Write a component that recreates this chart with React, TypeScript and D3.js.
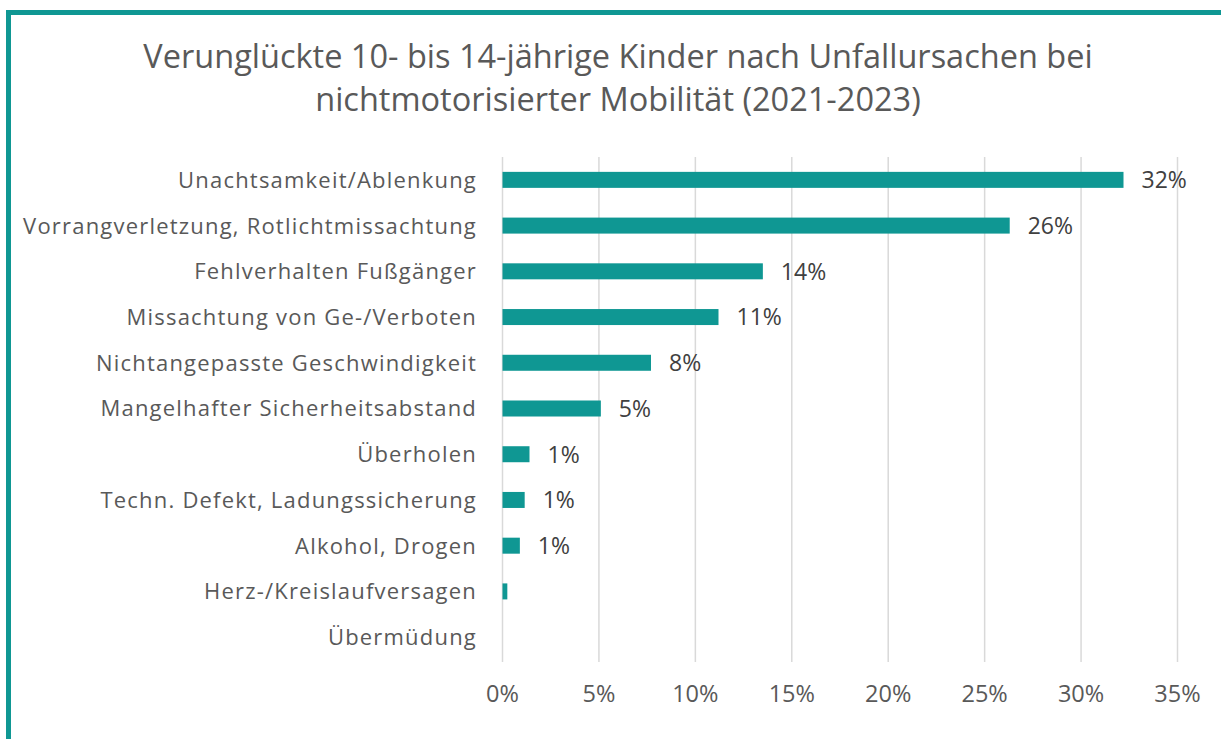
import React from "react";
import * as d3 from "d3";

const categories = [
  "Unachtsamkeit/Ablenkung",
  "Vorrangverletzung, Rotlichtmissachtung",
  "Fehlverhalten Fußgänger",
  "Missachtung von Ge-/Verboten",
  "Nichtangepasste Geschwindigkeit",
  "Mangelhafter Sicherheitsabstand",
  "Überholen",
  "Techn. Defekt, Ladungssicherung",
  "Alkohol, Drogen",
  "Herz-/Kreislaufversagen",
  "Übermüdung",
];
const values = [32.2, 26.3, 13.5, 11.2, 7.7, 5.1, 1.4, 1.15, 0.9, 0.25, 0];
const valueLabels = ["32%", "26%", "14%", "11%", "8%", "5%", "1%", "1%", "1%", "", ""];
const xTicks = [0, 5, 10, 15, 20, 25, 30, 35];
const titleLines = [
  "Verunglückte 10- bis 14-jährige Kinder nach Unfallursachen bei",
  "nichtmotorisierter Mobilität (2021-2023)",
];

const W = 1221;
const H = 739;
const TEAL = "#0f9793";
const FONT = "'Open Sans', 'Noto Sans', sans-serif";

export default function App() {
  const x = d3.scaleLinear().domain([0, 35]).range([502.5, 1177.5]);
  const y = d3.scaleBand<string>().domain(categories).range([157, 660]).paddingInner(0.65).paddingOuter(0.325);

  return (
    <div style={{ position: "fixed", left: 0, top: 0 }}>
      <svg width={W} height={H} style={{ display: "block", background: "#fff" }}>
        <rect x={0} y={0} width={W} height={H} fill="#fff" />
        {/* frame */}
        <rect x={6} y={10} width={W} height={5} fill={TEAL} />
        <rect x={6} y={10} width={5} height={H} fill={TEAL} />
        {/* title */}
        {titleLines.map((t, i) => (
          <text key={i} x={618} y={68 + i * 43} textAnchor="middle" fontFamily={FONT} fontSize={32.5} fill="#595959">
            {t}
          </text>
        ))}
        {/* gridlines */}
        {xTicks.map((t) => (
          <line key={t} x1={x(t)} x2={x(t)} y1={157} y2={662} stroke="#d9d9d9" strokeWidth={1.5} />
        ))}
        {/* tick labels */}
        {xTicks.map((t) => (
          <text key={"l" + t} x={x(t)} y={702} textAnchor="middle" fontFamily={FONT} fontSize={23.5} fill="#595959">
            {t + "%"}
          </text>
        ))}
        {/* bars */}
        {categories.map((c, i) => (
          <g key={c}>
            {values[i] > 0 && (
              <rect x={x(0)} y={y(c)!} width={x(values[i]) - x(0)} height={y.bandwidth()} fill={TEAL} />
            )}
            <text
              x={477}
              y={y(c)! + y.bandwidth() / 2}
              dy="0.36em"
              textAnchor="end"
              fontFamily={FONT}
              fontSize={22}
              letterSpacing={1.2}
              fill="#595959"
            >
              {c}
            </text>
            {valueLabels[i] && (
              <text
                x={x(values[i]) + 18}
                y={y(c)! + y.bandwidth() / 2}
                dy="0.36em"
                fontFamily={FONT}
                fontSize={23}
                fill="#404040"
              >
                {valueLabels[i]}
              </text>
            )}
          </g>
        ))}
      </svg>
    </div>
  );
}
